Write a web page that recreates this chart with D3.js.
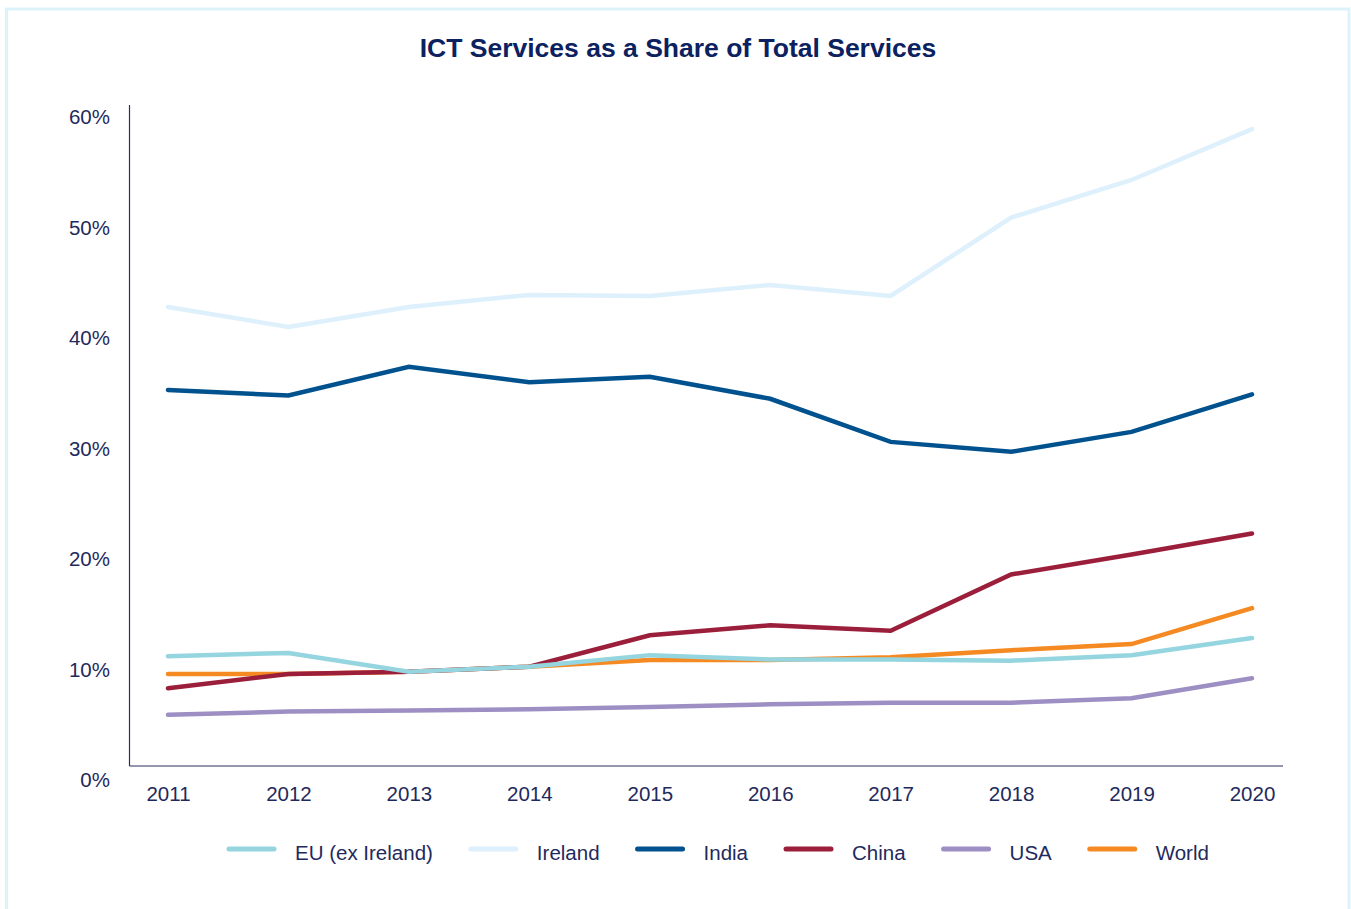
<!DOCTYPE html>
<html>
<head>
<meta charset="utf-8">
<script src="https://cdn.jsdelivr.net/npm/d3@7"></script>
<style>
  html, body { margin: 0; padding: 0; background: #fff; }
  svg { display: block; }
  text { font-family: "Liberation Sans", Arial, sans-serif; }
</style>
</head>
<body>
<svg id="chart" width="1351" height="909"></svg>
<script>
// Years on the x axis
const years = ["2011","2012","2013","2014","2015","2016","2017","2018","2019","2020"];

// ICT services share of total services exports (%)
const euExIreland = [11.2, 11.5, 9.8, 10.25, 11.3, 10.9, 10.9, 10.8, 11.3, 12.85];
const ireland     = [42.8, 41.0, 42.8, 43.9, 43.8, 44.8, 43.8, 50.9, 54.3, 58.9];
const india       = [35.3, 34.8, 37.4, 36.0, 36.5, 34.5, 30.6, 29.7, 31.5, 34.9];
const china       = [8.3, 9.6, 9.8, 10.25, 13.1, 14.0, 13.5, 18.6, 20.4, 22.3];
const usa         = [5.9, 6.2, 6.3, 6.4, 6.6, 6.85, 7.0, 7.0, 7.4, 9.2];
const world       = [9.6, 9.6, 9.8, 10.25, 10.85, 10.85, 11.1, 11.75, 12.3, 15.55];

const yTicks = [0, 10, 20, 30, 40, 50, 60];

// Legend order
const seriesNames = ["EU (ex Ireland)", "Ireland", "India", "China", "USA", "World"];
const seriesColors = {
  "EU (ex Ireland)": "#94d5df",
  "Ireland": "#ddf0fb",
  "India": "#00528f",
  "China": "#9b1f3b",
  "USA": "#9d8fc3",
  "World": "#f58a22"
};
const seriesValues = {
  "EU (ex Ireland)": euExIreland,
  "Ireland": ireland,
  "India": india,
  "China": china,
  "USA": usa,
  "World": world
};
// Stacking order of the lines (first drawn at the bottom)
const drawOrder = ["USA", "World", "China", "India", "Ireland", "EU (ex Ireland)"];

const textColor = "#1f2a5c";
const svg = d3.select("#chart");

// Light blue frame
svg.append("rect")
  .attr("x", 6.5).attr("y", 9)
  .attr("width", 1342.5).attr("height", 920)
  .attr("fill", "none")
  .attr("stroke", "#dcf3fc")
  .attr("stroke-width", 3);

// Title
svg.append("text")
  .attr("x", 678).attr("y", 57)
  .attr("text-anchor", "middle")
  .attr("font-size", 26.5)
  .attr("font-weight", "bold")
  .attr("fill", "#0b2160")
  .text("ICT Services as a Share of Total Services");

const x = d3.scalePoint().domain(years).range([168, 1252]);
const y = d3.scaleLinear().domain([0, 60]).range([780, 117]);

const axisLeftX = 129.5;
const axisBottomY = 766;

// Y axis labels
const yAxis = svg.append("g")
  .attr("transform", `translate(${axisLeftX},0)`)
  .call(d3.axisLeft(y).tickValues(yTicks).tickSize(0).tickPadding(19.5)
    .tickFormat(d => d + "%"));
yAxis.select(".domain").remove();
yAxis.selectAll("text")
  .attr("font-size", 20.5)
  .attr("font-family", "Liberation Sans, Arial, sans-serif")
  .attr("fill", textColor);

// X axis labels
const xAxis = svg.append("g")
  .attr("transform", `translate(0,${axisBottomY})`)
  .call(d3.axisBottom(x).tickSize(0).tickPadding(20));
xAxis.select(".domain").remove();
xAxis.selectAll("text")
  .attr("font-size", 20.5)
  .attr("font-family", "Liberation Sans, Arial, sans-serif")
  .attr("fill", textColor);

// Axis lines
svg.append("line")
  .attr("x1", axisLeftX).attr("x2", axisLeftX)
  .attr("y1", 105).attr("y2", axisBottomY)
  .attr("stroke", "#2b2f5e").attr("stroke-width", 1.2);
svg.append("line")
  .attr("x1", axisLeftX).attr("x2", 1283)
  .attr("y1", axisBottomY).attr("y2", axisBottomY)
  .attr("stroke", "#2b2f5e").attr("stroke-width", 1.2);

// Series lines
const line = d3.line()
  .x((d, i) => x(years[i]))
  .y(d => y(d));

svg.append("g").selectAll("path")
  .data(drawOrder)
  .join("path")
  .attr("d", name => line(seriesValues[name]))
  .attr("fill", "none")
  .attr("stroke", name => seriesColors[name])
  .attr("stroke-width", 4.5)
  .attr("stroke-linecap", "round")
  .attr("stroke-linejoin", "miter");

// Legend
const legend = svg.append("g").attr("transform", "translate(0,849)");
let lx = 229;
seriesNames.forEach(name => {
  const g = legend.append("g");
  g.append("line")
    .attr("x1", lx).attr("x2", lx + 45)
    .attr("y1", 0).attr("y2", 0)
    .attr("stroke", seriesColors[name])
    .attr("stroke-width", 5)
    .attr("stroke-linecap", "round");
  const t = g.append("text")
    .attr("x", lx + 66).attr("y", 11)
    .attr("font-size", 20.5)
    .attr("fill", textColor)
    .text(name);
  lx += 66 + t.node().getComputedTextLength() + 38;
});
</script>
</body>
</html>
